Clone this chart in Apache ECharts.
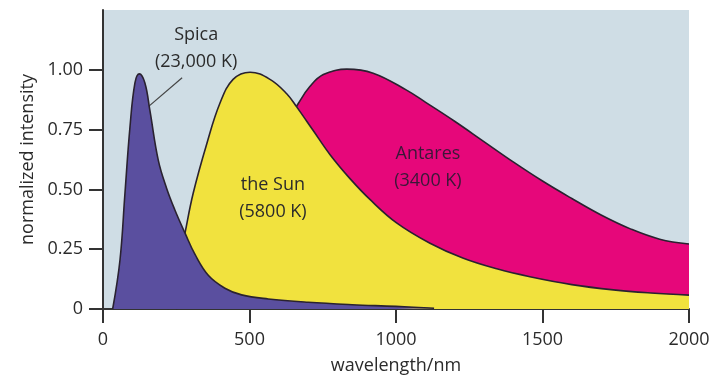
<!DOCTYPE html>
<html>
<head>
<meta charset="utf-8">
<script src="https://cdn.jsdelivr.net/npm/echarts@6/dist/echarts.min.js"></script>
<style>html,body{margin:0;padding:0;background:#fff;}#c{width:715px;height:382px;}</style>
</head>
<body>
<div id="c"></div>
<script>
// Wavelength (nm) and normalized intensity
const spicaWl = [33, 58, 75, 92, 109, 124, 143, 160, 189, 217, 245, 280, 314, 360, 416, 473, 564, 700, 850, 1000, 1130];
const spicaI  = [0, 0.205, 0.485, 0.76, 0.945, 0.983, 0.945, 0.83, 0.62, 0.505, 0.415, 0.317, 0.228, 0.14, 0.087, 0.059, 0.042, 0.028, 0.018, 0.011, 0.003];

const sunWl = [220, 250, 280, 308, 354, 399, 444, 502, 570, 627, 661, 718, 775, 843, 911, 1002, 1116, 1230, 1344, 1457, 1600, 1742, 1870, 2000];
const sunI  = [0, 0.13, 0.318, 0.485, 0.69, 0.86, 0.96, 0.99, 0.96, 0.90, 0.845, 0.745, 0.645, 0.545, 0.458, 0.36, 0.275, 0.212, 0.168, 0.135, 0.102, 0.08, 0.067, 0.058];

const antaresWl = [250, 300, 400, 500, 600, 667, 706, 752, 832, 922, 1036, 1100, 1200, 1300, 1400, 1500, 1600, 1700, 1800, 1900, 2000];
const antaresI  = [0, 0.08, 0.30, 0.52, 0.72, 0.86, 0.93, 0.98, 1.003, 0.986, 0.915, 0.865, 0.785, 0.70, 0.615, 0.535, 0.462, 0.393, 0.335, 0.292, 0.272];

const xTicks = [0, 500, 1000, 1500, 2000];
const yTicks = [0, 0.25, 0.5, 0.75, 1.0];

const labels = [
  { text: 'Spica\n(23,000 K)', at: [318, 1.09], color: '#2b2b2b' },
  { text: 'the Sun\n(5800 K)', at: [580, 0.464], color: '#2b2b2b' },
  { text: 'Antares\n(3400 K)', at: [1109, 0.594], color: '#3a1838' }
];
const spicaLeader = [[270, 0.967], [150, 0.841]];

const pairs = (xs, ys) => xs.map((x, i) => [x, ys[i]]);
const FONT = 'Open Sans';
const LINE = '#2a2230';

const chart = echarts.init(document.getElementById('c'), null, { renderer: 'canvas' });

function areaSeries(name, data, fill, z) {
  return {
    name, type: 'line', data, smooth: 0.4, symbol: 'none', z,
    lineStyle: { color: LINE, width: 1.6 },
    areaStyle: { color: fill, opacity: 1 },
    emphasis: { disabled: true }
  };
}

const sp = areaSeries('Spica', pairs(spicaWl, spicaI), '#5a4f9f', 5);
sp.markLine = {
  silent: true, symbol: ['none', 'none'], animation: false,
  lineStyle: { color: '#444', width: 1.2, type: 'solid' },
  label: { show: false },
  data: [[{ coord: spicaLeader[0] }, { coord: spicaLeader[1] }]]
};
sp.markPoint = {
  silent: true, symbol: 'circle', symbolSize: 1, animation: false,
  itemStyle: { color: 'rgba(0,0,0,0)' },
  data: labels.map(l => ({
    coord: l.at,
    label: { show: true, position: 'inside', formatter: l.text, color: l.color,
             fontFamily: FONT, fontSize: 18, lineHeight: 27, align: 'center' }
  }))
};

chart.setOption({
  animation: false,
  grid: { left: 103, right: 26, top: 10, bottom: 73, show: true,
          backgroundColor: '#cfdde5', borderWidth: 0 },
  xAxis: {
    type: 'value', min: 0, max: 2000, interval: 500,
    name: 'wavelength/nm', nameLocation: 'middle', nameGap: 48,
    nameTextStyle: { fontFamily: FONT, fontSize: 18, color: '#2b2b2b' },
    axisLine: { show: true, lineStyle: { color: '#333', width: 2 } },
    axisTick: { show: true, length: 14, lineStyle: { color: '#333', width: 2 }, customValues: xTicks },
    axisLabel: { margin: 22, fontFamily: FONT, fontSize: 18, color: '#2b2b2b', customValues: xTicks,
                 formatter: v => String(v) },
    splitLine: { show: false }
  },
  yAxis: {
    type: 'value', min: 0, max: 1.25, interval: 0.25,
    name: 'normalized intensity', nameLocation: 'middle', nameGap: 62,
    nameTextStyle: { fontFamily: FONT, fontSize: 18, color: '#2b2b2b' },
    axisLine: { show: true, lineStyle: { color: '#333', width: 2 } },
    axisTick: { show: true, length: 14, lineStyle: { color: '#333', width: 2 }, customValues: yTicks },
    axisLabel: { margin: 20, fontFamily: FONT, fontSize: 18, color: '#2b2b2b', customValues: yTicks,
                 formatter: v => (v === 0 ? '0' : v.toFixed(2)) },
    splitLine: { show: false }
  },
  series: [
    areaSeries('Antares', pairs(antaresWl, antaresI), '#e6077a', 2),
    areaSeries('the Sun', pairs(sunWl, sunI), '#f1e23e', 3),
    sp
  ]
});
</script>
</body>
</html>
